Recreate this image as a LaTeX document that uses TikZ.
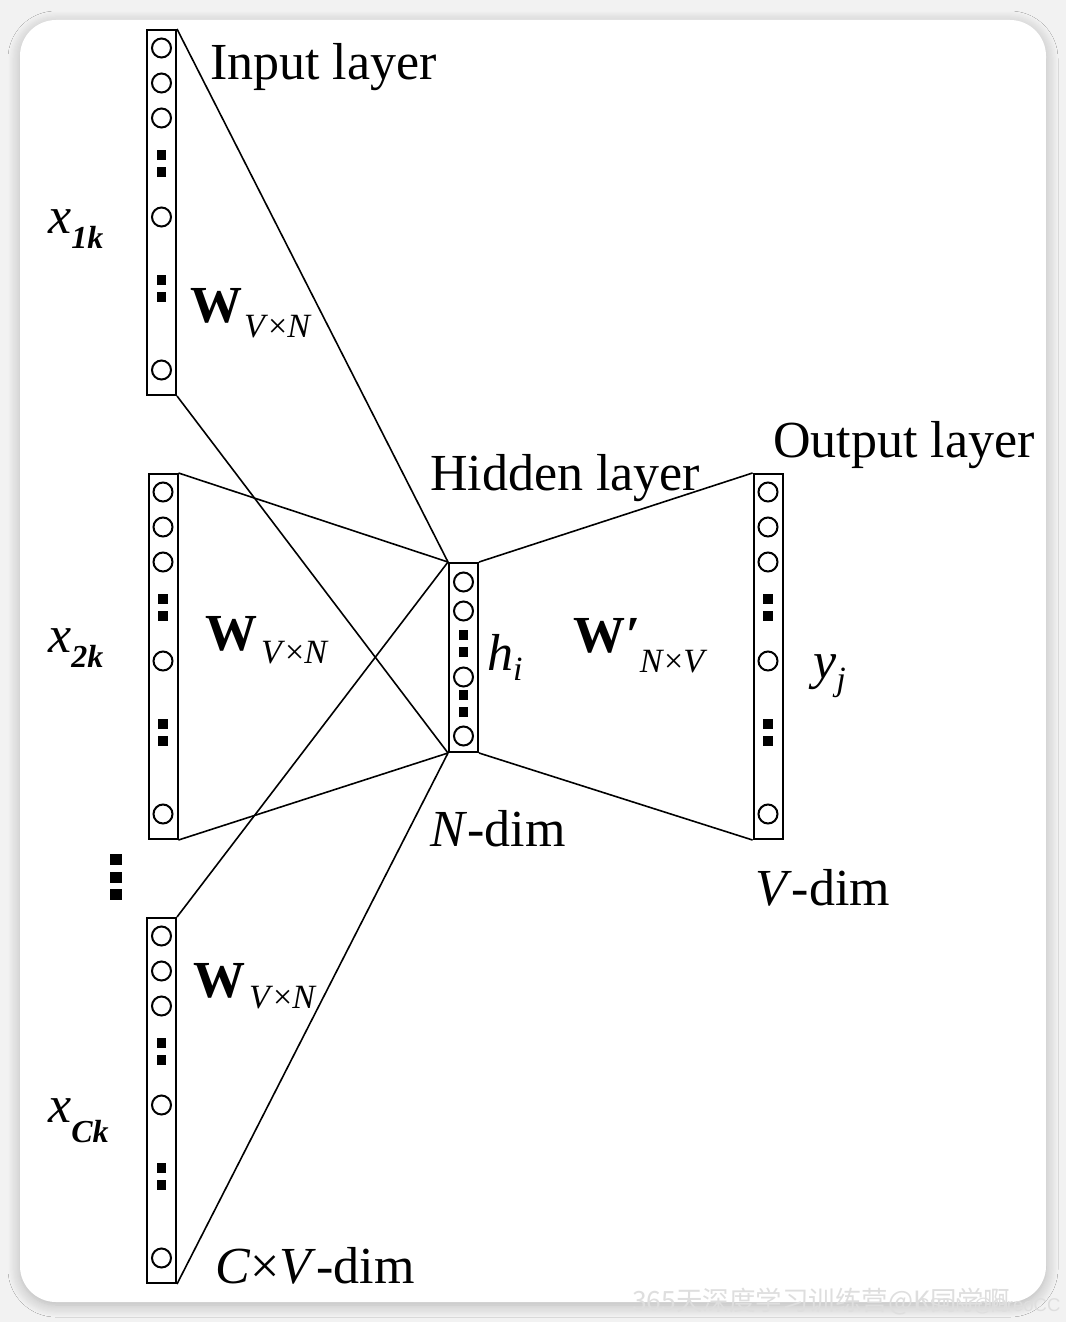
\documentclass[tikz,border=0pt]{standalone}
\usepackage{fontspec}
\setmainfont{Liberation Serif}
\newfontfamily\cjkfont{Noto Sans CJK SC}
\usetikzlibrary{shadows.blur}
\newcommand\vcol[3]{%
  \node[colbox, minimum height=365pt] (#1) at (#2,#3+182.5) {};
  \foreach \dy [count=\k] in {18,53,88,187,340} \node[neuron] (#1-c\k) at (#2,#3+\dy) {};
  \foreach \dy [count=\k] in {125,142,250,267} \node[sqdot] (#1-s\k) at (#2,#3+\dy) {};
}
\begin{document}
\begin{tikzpicture}[x=1pt,y=-1pt,
  colbox/.style={draw, line width=2pt, minimum width=29pt, inner sep=0pt},
  neuron/.style={circle, draw, line width=2pt, minimum size=19pt, inner sep=0pt},
  sqdot/.style={fill=black, minimum size=9.5pt, inner sep=0pt},
  link/.style={line width=1.6pt},
  lbl/.style={anchor=base west, inner sep=0pt, font=\fontsize{52}{60}\selectfont},
  wmark/.style={anchor=base west, inner sep=0pt, text=black!13}]
\fill[black!5] (0,0) rectangle (1066,1322);
\useasboundingbox (0,0) rectangle (1066,1322);
\node[fill=white, rounded corners=36pt, minimum width=1026pt, minimum height=1282pt,
  blur shadow={shadow blur steps=12, shadow xshift=0pt, shadow yshift=-3pt, shadow blur radius=12pt, shadow opacity=25}] (card) at (533,661) {};

% columns
\vcol{in1}{161.5}{30}
\vcol{in2}{163}{474}
\vcol{in3}{161.5}{918}
\vcol{out}{768}{474}

% hidden layer
\node[colbox, minimum height=189pt] (hid) at (463.5,657.5) {};
\foreach \yy [count=\k] in {582,611,677,736} \node[neuron] (hid-c\k) at (463.5,\yy) {};
\foreach \yy [count=\k] in {635,652,695,712} \node[sqdot] (hid-s\k) at (463.5,\yy) {};

% dots between input columns
\foreach \yy [count=\k] in {859,877,894} \node[sqdot, minimum width=12pt, minimum height=11pt] (vd\k) at (116,\yy) {};

% connectors
\foreach \c in {in1,in2,in3} {
  \draw[link] (\c.north east) -- (hid.north west);
  \draw[link] (\c.south east) -- (hid.south west);
}
\draw[link] (hid.north east) -- (out.north west);
\draw[link] (hid.south east) -- (out.south west);

% labels
\node[lbl] (tin) at (210,79) {Input layer};
\node[lbl] (thid) at (430,490) {Hidden layer};
\node[lbl] (tout) at (773,457) {Output layer};
\node[lbl] (tnd) at (430,846) {\textit{N}-dim};
\node[lbl] (tvd) at (755,905) {\textit{V}-dim};
\node[lbl] (tcvd) at (215,1283) {\textit{C}×\textit{V}-dim};

\node[lbl] (x1) at (48,233) {\textit{x}\raisebox{-15pt}{\fontsize{32}{36}\selectfont\textbf{\textit{1k}}}};
\node[lbl] (x2) at (48,652) {\textit{x}\raisebox{-15pt}{\fontsize{32}{36}\selectfont\textbf{\textit{2k}}}};
\node[lbl] (x3) at (48,1122) {\textit{x}\raisebox{-20pt}{\fontsize{32}{36}\selectfont\textbf{\textit{Ck}}}};

\node[lbl] (w1) at (190,322) {\textbf{W}\hspace{2pt}\raisebox{-15pt}{\fontsize{34}{40}\selectfont\textit{V}×\textit{N}}};
\node[lbl] (w2) at (205,650) {\textbf{W}\hspace{4pt}\raisebox{-13pt}{\fontsize{34}{40}\selectfont\textit{V}×\textit{N}}};
\node[lbl] (w3) at (193,997) {\textbf{W}\hspace{4pt}\raisebox{-11pt}{\fontsize{34}{40}\selectfont\textit{V}×\textit{N}}};
\node[lbl] (wp) at (573,652) {\textbf{W}\textbf{\textit{′}}\raisebox{-20pt}{\fontsize{34}{40}\selectfont\textit{N}×\textit{V}}};
\node[lbl] (hi) at (487,670) {\textit{h}\raisebox{-10pt}{\fontsize{34}{40}\selectfont\textit{i}}};
\node[lbl] (yj) at (813,678) {\textit{y}\raisebox{-12pt}{\fontsize{34}{40}\selectfont\textit{j}}};

% watermark
\node[wmark, font=\cjkfont\fontsize{26.5}{30}\selectfont] (wm1) at (632,1310) {365天深度学习训练营@K同学啊};
\node[wmark, font=\fontspec{Liberation Sans}\fontsize{18.5}{22}\selectfont] (wm2) at (916,1311) {CSDN @OreoCC};
\end{tikzpicture}
\end{document}
